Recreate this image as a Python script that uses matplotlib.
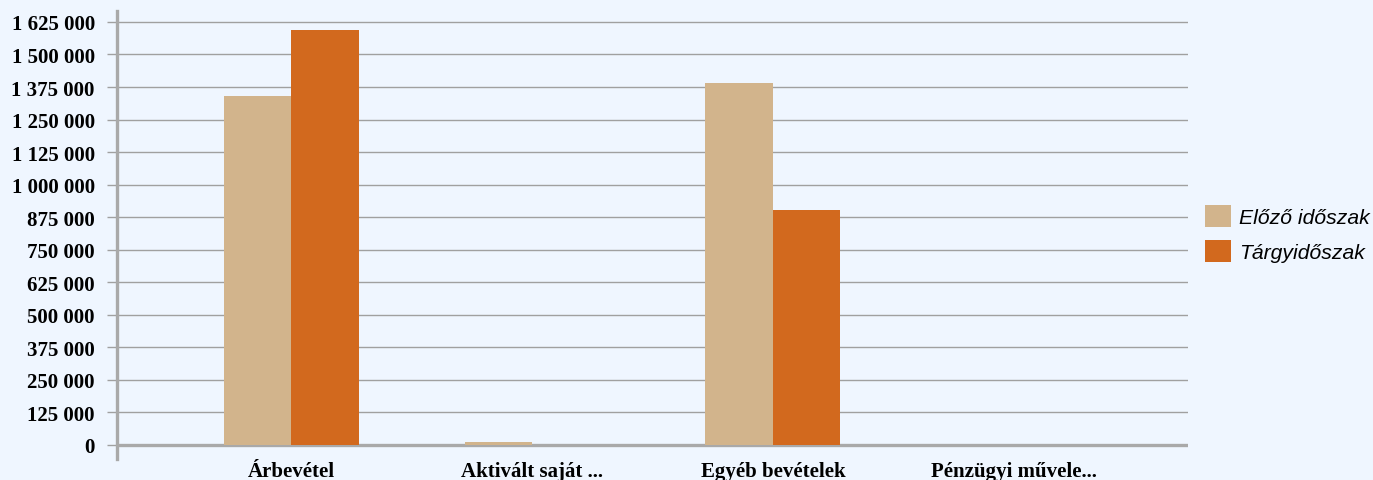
import matplotlib
matplotlib.use("Agg")
from matplotlib import pyplot as plt
from matplotlib.patches import Patch
import numpy as np

categories = ["Árbevétel", "Aktivált saját ...", "Egyéb bevételek", "Pénzügyi művele..."]
elozo = [1340000, 10000, 1390000, 0]
targy = [1595000, 0, 903000, 0]
series_names = ["Előző időszak", "Tárgyidőszak"]
yticks = list(range(0, 1625001, 125000))

bg = "#EFF6FF"
c_elozo = "#D2B48C"
c_targy = "#D2691E"
grid_c = "#A0A0A0"

fig = plt.figure(figsize=(13.73, 4.81), dpi=100, facecolor=bg)
ax = fig.add_axes([117 / 1373, 1 - 460 / 481, (1188 - 117) / 1373, (460 - 12) / 481])
ax.set_facecolor(bg)

x = np.arange(len(categories))
w = 0.28
ax.bar(x - w / 2, elozo, w, color=c_elozo, zorder=3)
ax.bar(x + w / 2, targy, w, color=c_targy, zorder=3)

ax.set_xlim(-0.723, 3.723)
ax.set_ylim(-54000, 1667000)

# gridlines, zero line drawn thicker
for v in yticks[1:]:
    ax.axhline(v, color=grid_c, lw=1.0, zorder=1)
ax.axhline(0, color="#A9A9A9", lw=2.4, zorder=2)

for s in ["top", "right", "bottom"]:
    ax.spines[s].set_visible(False)
ax.spines["left"].set_color("#A9A9A9")
ax.spines["left"].set_linewidth(2.4)

def fmt(v):
    return "{:,}".format(v).replace(",", " ")

ax.set_yticks(yticks)
ax.set_yticklabels([fmt(v) for v in yticks])
ax.tick_params(axis="y", length=7, width=1.0, color=grid_c, pad=9)
ax.set_xticks(x)
ax.set_xticklabels(categories)
ax.tick_params(axis="x", length=0, pad=1.5)
for lab in ax.get_yticklabels() + ax.get_xticklabels():
    lab.set_fontfamily("Liberation Serif")
    lab.set_fontweight("bold")
    lab.set_fontsize(15)

handles = [Patch(facecolor=c_elozo), Patch(facecolor=c_targy)]
fig.legend(handles, series_names, loc="upper left", bbox_to_anchor=(1186 / 1373, 1 - 187 / 481),
           frameon=False, handlelength=1.25, handleheight=1.25, handletextpad=0.35,
           labelspacing=0.6,
           prop={"family": "Liberation Sans", "style": "italic", "size": 15.2})

fig.savefig("out.png", dpi=100, facecolor=bg)
